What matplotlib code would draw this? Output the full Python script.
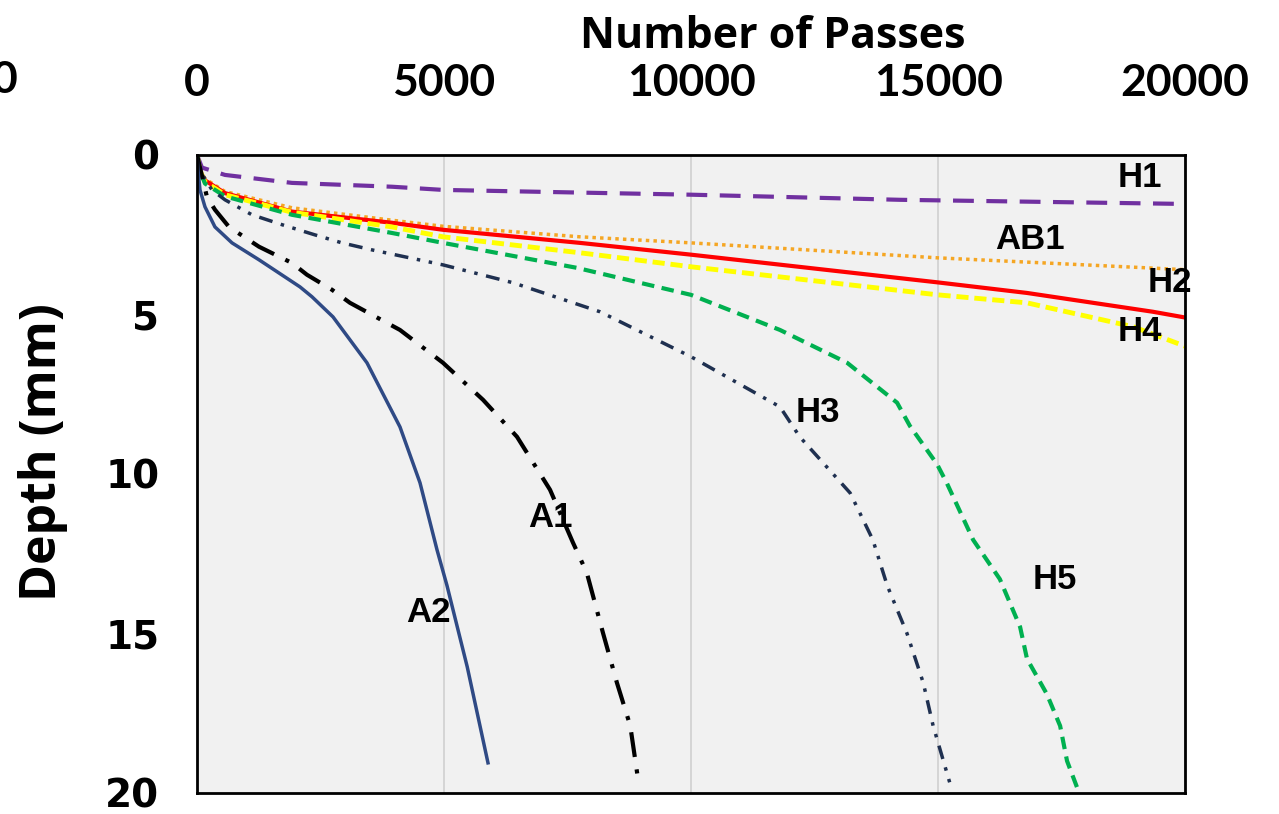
import matplotlib
matplotlib.use("Agg")
import matplotlib.pyplot as plt

# depth (mm) vs number of passes
h1_x = [0, 101, 567, 1923, 3947, 4980, 7960, 10000, 14230, 20000]
h1_y = [0, 0.4, 0.63, 0.88, 1.0, 1.1, 1.19, 1.25, 1.41, 1.54]

ab1_x = [0, 60, 162, 567, 1923, 3947, 4980, 7750, 10000, 15000, 20000]
ab1_y = [0, 0.45, 0.75, 1.15, 1.66, 2.05, 2.24, 2.57, 2.76, 3.23, 3.6]

h2_x = [0, 60, 162, 567, 1923, 3947, 4980, 7750, 10000, 15000, 16800, 19350, 20000]
h2_y = [0, 0.5, 0.8, 1.2, 1.78, 2.13, 2.35, 2.76, 3.13, 4.0, 4.33, 4.92, 5.1]

h4_x = [0, 60, 162, 567, 1923, 3947, 4980, 7750, 10000, 15000, 16800, 18950, 20000]
h4_y = [0, 0.5, 0.85, 1.25, 1.8, 2.26, 2.57, 3.07, 3.51, 4.39, 4.64, 5.39, 6.0]

h5_x = [0, 60, 162, 567, 1923, 3947, 4980, 7680, 10000, 11800, 13160, 14170,
        14430, 14980, 15180, 15710, 16250, 16660, 16800, 17200, 17470, 17610, 17830]
h5_y = [0, 0.5, 0.9, 1.3, 1.88, 2.45, 2.76, 3.54, 4.39, 5.49, 6.52, 7.77,
        8.5, 9.7, 10.3, 12.07, 13.3, 14.8, 15.8, 16.9, 17.9, 19.0, 19.9]

h3_x = [0, 60, 304, 567, 1113, 1721, 2389, 2935, 3543, 4980, 6397, 8158, 10000,
        11800, 12200, 13220, 13680, 13970, 14370, 14700, 14900, 15240]
h3_y = [0, 0.5, 1.1, 1.41, 1.88, 2.19, 2.51, 2.76, 2.98, 3.45, 4.01, 4.92, 6.33,
        7.9, 8.84, 10.6, 12.07, 13.5, 15.0, 16.55, 17.9, 19.7]

a1_x = [0, 202, 364, 648, 1255, 1923, 2227, 2733, 3097, 4109, 4980, 5790, 6478,
        7146, 7611, 7890, 8220, 8500, 8770, 8930]
a1_y = [0, 1.32, 1.72, 2.26, 2.88, 3.39, 3.76, 4.23, 4.64, 5.49, 6.52, 7.68, 8.84,
        10.5, 12.16, 13.1, 15.0, 16.55, 17.9, 19.6]

a2_x = [0, 20, 61, 162, 364, 709, 1255, 2085, 2328, 2753, 3441, 4109,
        4514, 4858, 5060, 5470, 5890]
a2_y = [0, 0.47, 1.1, 1.63, 2.26, 2.76, 3.29, 4.14, 4.45, 5.08, 6.52, 8.53,
        10.28, 12.38, 13.5, 16.05, 19.06]

x_ticks = [0, 5000, 10000, 15000, 20000]
y_ticks = [0, 5, 10, 15, 20]

fig = plt.figure(figsize=(12.79, 8.14), dpi=100)
ax = fig.add_axes([0.154, 0.026, 0.7726, 0.7838])
ax.set_facecolor("#f1f1f1")

ax.plot(h1_x, h1_y, color="#7030a0", lw=3, ls=(0, (5, 3)))
ax.plot(ab1_x, ab1_y, color="#f5a623", lw=2.5, ls=(0, (1, 1.2)))
ax.plot(h2_x, h2_y, color="#ff0000", lw=3, ls="-")
ax.plot(h4_x, h4_y, color="#ffff00", lw=3.5, ls=(0, (2.5, 1.2)))
ax.plot(h5_x, h5_y, color="#00b050", lw=3, ls=(0, (3, 1.8)))
ax.plot(h3_x, h3_y, color="#1f3050", lw=2.5, ls=(0, (4, 2.5, 1, 2.5, 1, 2.5)))
ax.plot(a1_x, a1_y, color="black", lw=3, ls=(0, (6, 3, 1, 3)))
ax.plot(a2_x, a2_y, color="#2f4a85", lw=2.5, ls="-")

# series labels
labels = {"H1": (19090, 0.72), "AB1": (16860, 2.66), "H2": (19700, 4.01),
          "H4": (19090, 5.55), "H3": (12570, 8.09), "A1": (7150, 11.38),
          "A2": (4680, 14.36), "H5": (17370, 13.32)}
for name, (lx, ly) in labels.items():
    ax.text(lx, ly, name, ha="center", va="center", fontsize=25,
            fontweight="bold", family=["Liberation Sans", "DejaVu Sans"],
            clip_on=False)

ax.set_xlim(0, 20000)
ax.set_ylim(20, 0)
ax.set_xticks(x_ticks)
ax.set_yticks(y_ticks)
ax.xaxis.tick_top()
ax.xaxis.set_label_position("top")
ax.tick_params(length=0)
ax.tick_params(axis="x", pad=37)
ax.tick_params(axis="y", pad=27)
for t in ax.get_xticklabels():
    t.set_family(["Liberation Sans Narrow", "Lato", "DejaVu Sans"])
    t.set_fontweight("bold")
    t.set_fontsize(32)
for t in ax.get_yticklabels():
    t.set_family(["DejaVu Sans"])
    t.set_fontweight("bold")
    t.set_fontsize(28)

ax.grid(axis="x", color="#d0d0d0", lw=1.2)
ax.grid(axis="y", visible=False)
ax.set_axisbelow(True)
for s in ax.spines.values():
    s.set_color("black")
    s.set_linewidth(2)

ax.set_xlabel("Number of Passes", fontsize=31, fontweight="bold",
              family=["Open Sans", "Lato", "DejaVu Sans"], labelpad=11)
ax.xaxis.label.set_x(0.583)
ax.set_ylabel("Depth (mm)", fontsize=36, fontweight="bold",
              family=["Open Sans", "Lato", "DejaVu Sans"])
ax.yaxis.set_label_coords(-0.131, 0.534)

# stray tick label cut at the left edge of the original
fig.text(0.004, 1 - 80 / 814, "0", ha="center", va="center", fontsize=32,
         fontweight="bold", family=["Liberation Sans Narrow", "Lato", "DejaVu Sans"])

fig.savefig("out.png", dpi=100)
